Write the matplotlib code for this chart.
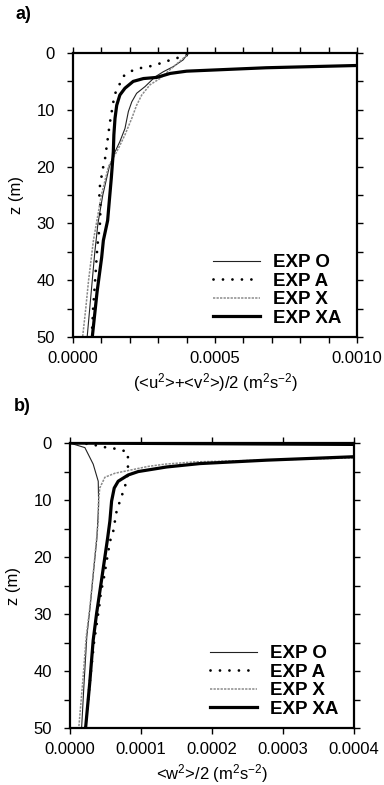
import matplotlib

matplotlib.use("Agg")
import matplotlib.pyplot as plt
from matplotlib.ticker import MultipleLocator, FormatStrFormatter

plt.rcParams["font.family"] = ["Liberation Sans", "DejaVu Sans"]
plt.rcParams["mathtext.fontset"] = "custom"
plt.rcParams["mathtext.rm"] = "Liberation Sans"
plt.rcParams["mathtext.it"] = "Liberation Sans:italic"
plt.rcParams["mathtext.bf"] = "Liberation Sans:bold"

# ---- panel a: horizontal TKE profiles ----
z_o_a = [0, 1.2, 2.4, 3.3, 4.2, 5.9, 7.1, 8.6, 10.3, 13.3, 15.6, 17.4, 20, 25, 30, 35, 40, 45, 50]
u_o_a = [0.000406, 0.000388, 0.000353, 0.000318, 0.000289, 0.000254, 0.000224, 0.000207, 0.000195,
         0.000183, 0.000165, 0.000148, 0.000128, 0.000105, 0.000088, 0.000077, 0.000068, 0.000059, 0.00005]
z_a_a = [0.4, 1.2, 1.8, 2.3, 2.6, 3.1, 3.9, 5.7, 7.4, 9.3, 11, 12.9, 14.6, 16.2, 18.1, 19.9, 21.6,
         23.4, 25.1, 27, 30, 34, 40, 45, 50]
u_a_a = [0.0004, 0.000345, 0.000309, 0.000275, 0.000242, 0.000209, 0.000181, 0.000162, 0.000146,
         0.00014, 0.000134, 0.000128, 0.000124, 0.000119, 0.000115, 0.000107, 0.000101, 0.000095,
         0.000093, 0.000097, 0.000095, 0.000086, 0.000078, 0.000071, 0.000066]
z_x_a = [0, 1.5, 3.0, 4.5, 5.6, 7.4, 9.2, 11.5, 14.4, 16.8, 20, 25, 33, 40, 45, 50]
u_x_a = [0.00041, 0.000375, 0.00034, 0.000306, 0.000271, 0.000242, 0.000224, 0.000207, 0.000183,
         0.00016, 0.000125, 0.0001, 0.000072, 0.000055, 0.000045, 0.000034]
z_xa_a = [1.5, 2.2, 2.6, 3.2, 3.6, 4.3, 4.5, 5.0, 6.2, 7.4, 9.2, 11.5, 14.4, 17.4, 22, 26, 29.5,
          33, 36, 42, 50]
u_xa_a = [0.0030, 0.00100, 0.00068, 0.00040, 0.000342, 0.000295, 0.000248, 0.000212, 0.000183,
          0.000165, 0.000154, 0.000148, 0.000144, 0.000142, 0.000135, 0.000128, 0.000122, 0.000107,
          0.000101, 0.000085, 0.000068]

# ---- panel b: vertical TKE profiles ----
z_o_b = [0, 0.8, 3.7, 6.7, 10.8, 16.7, 22.9, 28.7, 34, 42, 50]
w_o_b = [0, 0.0000211, 0.0000328, 0.0000399, 0.0000405, 0.000038, 0.000033, 0.0000285, 0.0000238,
         0.000020, 0.0000165]
z_a_b = [0, 0.2, 0.65, 0.9, 1.2, 1.7, 3.2, 5, 6.7, 8.5, 10.2, 12, 13.7, 15.5, 17.3, 19.1, 20.8,
         22.6, 24.3, 26.1, 27.8, 35, 42, 50]
w_a_b = [0.00001, 0.0000305, 0.0000446, 0.0000596, 0.0000728, 0.0000821, 0.0000813, 0.0000821,
         0.0000798, 0.0000751, 0.0000704, 0.0000657, 0.0000634, 0.000061, 0.0000563, 0.000054,
         0.0000516, 0.0000493, 0.000047, 0.0000437, 0.0000423, 0.000034, 0.000028, 0.000022]
z_x_b = [0, 0.4, 2.6, 3.3, 3.7, 4.1, 4.7, 5.3, 6.0, 7.9, 10.8, 13.7, 16.7, 22.9, 28.7, 34, 42, 50]
w_x_b = [0, 0.0009, 0.0004, 0.000176, 0.000134, 0.00011, 0.0000869, 0.0000634, 0.0000493, 0.000042,
         0.00004, 0.00004, 0.0000376, 0.0000328, 0.0000282, 0.000023, 0.000018, 0.0000125]
z_xa_b = [0, 0.6, 2.4, 3.0, 3.6, 4.2, 5.0, 5.6, 6.7, 7.9, 10.2, 13.7, 16.7, 24, 29.9, 34.6, 42, 50]
w_xa_b = [0, 0.001, 0.0004, 0.000277, 0.000183, 0.000136, 0.0000962, 0.0000821, 0.000068,
          0.0000624, 0.0000587, 0.0000563, 0.0000531, 0.0000446, 0.0000376, 0.0000328, 0.000028,
          0.0000221]

labels = ["EXP O", "EXP A", "EXP X", "EXP XA"]

STYLES = [
    dict(color="#222222", lw=0.8, ls="-"),
    dict(color="black", lw=2.0, ls=(0, (0.01, 3.4)), dash_capstyle="round"),
    dict(color="#8a8a8a", lw=1.1, ls=(0, (1.5, 0.8))),
    dict(color="black", lw=2.3, ls="-"),
]


def style_axes(ax, xmax, xmajor, xminor, xlabel):
    ax.set_xlim(0, xmax)
    ax.set_ylim(50, 0)
    ax.xaxis.set_major_locator(MultipleLocator(xmajor))
    if xminor:
        ax.xaxis.set_minor_locator(MultipleLocator(xminor))
    ax.xaxis.set_major_formatter(FormatStrFormatter("%.4f"))
    ax.yaxis.set_major_locator(MultipleLocator(10))
    ax.yaxis.set_minor_locator(MultipleLocator(5))
    ax.tick_params(which="both", direction="out", top=True, right=True, length=4, width=1,
                   labelsize=12)
    ax.tick_params(axis="x", pad=6)
    ax.tick_params(axis="y", pad=9)
    for spine in ax.spines.values():
        spine.set_linewidth(1.6)
    ax.set_xlabel(xlabel, fontsize=12, labelpad=4)
    ax.set_ylabel("z (m)", fontsize=12, labelpad=9)


def add_legend(ax):
    ax.legend(loc="lower right", bbox_to_anchor=(0.945, 0.035), borderaxespad=0, borderpad=0,
              frameon=False, handlelength=2.5, handletextpad=0.7, labelspacing=0.08,
              prop=dict(weight="bold", size=13.5))


fig = plt.figure(figsize=(3.84, 7.85), dpi=100)

ax_a = fig.add_axes([0.190, 0.5707, 0.740, 0.3618])
for (x, z), st, lab in zip([(u_o_a, z_o_a), (u_a_a, z_a_a), (u_x_a, z_x_a), (u_xa_a, z_xa_a)],
                           STYLES, labels):
    ax_a.plot(x, z, label=lab, **st)
style_axes(ax_a, 0.001, 0.0005, 0.0001, r"(<u$^2$>+<v$^2$>)/2 (m$^2$s$^{-2}$)")
add_legend(ax_a)

ax_b = fig.add_axes([0.182, 0.0726, 0.740, 0.3630])
for (x, z), st, lab in zip([(w_o_b, z_o_b), (w_a_b, z_a_b), (w_x_b, z_x_b), (w_xa_b, z_xa_b)],
                           STYLES, labels):
    ax_b.plot(x, z, label=lab, **st)
style_axes(ax_b, 0.0004, 0.0001, None, r"<w$^2$>/2 (m$^2$s$^{-2}$)")
add_legend(ax_b)

fig.text(0.04, 0.982, "a)", fontsize=13, fontweight="bold", va="center")
fig.text(0.035, 0.482, "b)", fontsize=13, fontweight="bold", va="center")

fig.savefig("out.png", dpi=100)
